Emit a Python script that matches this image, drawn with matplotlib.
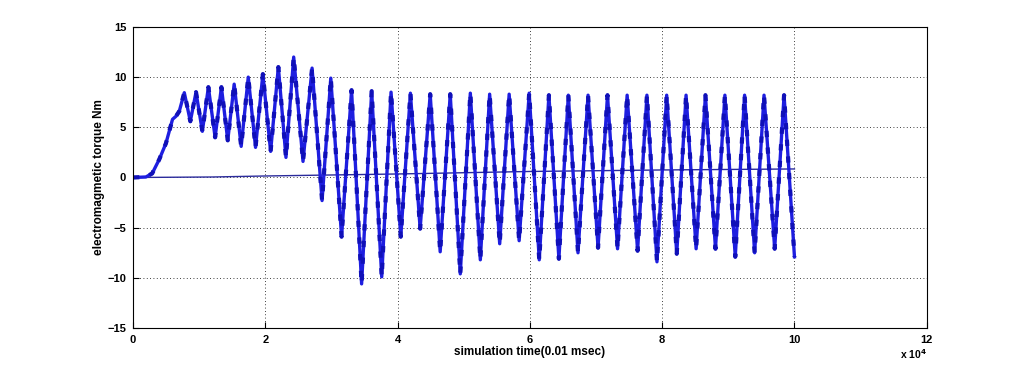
import matplotlib
matplotlib.use("Agg")
import matplotlib.pyplot as plt
from matplotlib.ticker import FuncFormatter

# simulation samples (0.01 msec steps) at the extrema of the torque curve
t_samples = [0, 1930, 2880, 3950, 4960, 5960, 6480, 6980, 7740,
             8650, 9510, 10470, 11380, 12400, 13350, 14310, 15280, 16340, 17410,
             18510, 19620, 20790, 21960, 23110, 24280, 25690, 27060, 28570, 29890,
             31520, 33030, 34550, 36070, 37590, 39000, 40470, 41930, 43400, 44920,
             46430, 47950, 49470, 50990, 52500, 53910, 55430, 56860, 58370, 59890,
             61410, 62870, 64380, 65810, 67270, 68790, 70300, 71730, 73250, 74700,
             76280, 77690, 79210, 80680, 82200, 83610, 85130, 86540, 88060, 89480,
             91050, 92460, 93980, 95400, 97010, 98430, 100000]
torque = [0, 0.05, 0.4, 1.8, 3.4, 5.8, 6.1, 6.6, 8.45,
          5.6, 8.5, 4.6, 9.0, 4.0, 9.0, 3.7, 9.3, 3.1, 10.0,
          3.0, 10.3, 2.6, 11.0, 2.0, 12.0, 1.6, 10.9, -2.3, 9.9,
          -5.9, 8.7, -10.6, 8.6, -9.9, 8.5, -5.9, 8.4, -5.1, 8.3,
          -7.4, 8.3, -9.6, 8.4, -8.2, 8.3, -6.6, 8.3, -6.3, 8.4,
          -8.2, 8.2, -8.1, 8.2, -7.5, 8.2, -7.0, 8.2, -7.1, 8.2,
          -7.3, 8.2, -8.4, 8.2, -7.6, 8.2, -7.1, 8.2, -7.1, 8.2,
          -7.9, 8.2, -7.5, 8.2, -7.1, 8.2, -7.9]

# slowly rising thin reference line
ref_samples = [0, 12000, 20000, 40000, 60000, 80000, 100000]
ref_torque = [0.0, 0.05, 0.15, 0.35, 0.6, 0.75, 0.85]

x_ticks = [0, 20000, 40000, 60000, 80000, 100000, 120000]
y_ticks = [-15, -10, -5, 0, 5, 10, 15]

plt.rcParams["font.family"] = ["Liberation Sans", "DejaVu Sans"]
plt.rcParams["font.weight"] = "bold"

fig = plt.figure(figsize=(10.24, 3.69), dpi=100)
ax = fig.add_axes([0.130, 0.111, 0.775, 0.816])

ax.plot(ref_samples, ref_torque, color="#2b2b9c", lw=1.0)
ax.plot(t_samples, torque, color="#1e1ee0", lw=2.4)
ax.plot(t_samples, torque, color="#1010b8", lw=3.0, ls=(0, (1.5, 2.5)))

ax.set_xlim(0, 120000)
ax.set_ylim(-15, 15)
ax.set_xticks(x_ticks)
ax.set_yticks(y_ticks)
ax.xaxis.set_major_formatter(FuncFormatter(lambda v, p: f"{v / 1e4:g}"))
ax.grid(True, color="black", ls=(0, (1, 3)), lw=0.6)
ax.tick_params(direction="in", length=4, labelsize=8, width=0.8, pad=5)
for s in ax.spines.values():
    s.set_linewidth(0.8)

ax.set_xlabel("simulation time(0.01 msec)", fontsize=8.5, fontweight="bold", labelpad=1)
ax.set_ylabel("electromagmetic torque Nm", fontsize=8.5, fontweight="bold", labelpad=2)
fig.text(0.879, 0.028, r"x 10$^4$", fontsize=7.5, fontweight="bold")

fig.savefig("out.png", dpi=100, facecolor="white")
